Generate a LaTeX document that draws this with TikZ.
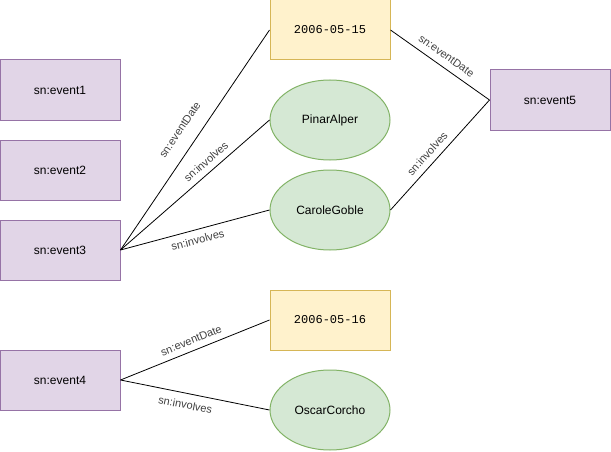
\documentclass[tikz,border=0pt]{standalone}
\usepackage{fontspec}
\setmainfont{Liberation Sans}
\setmonofont{Liberation Mono}
\usetikzlibrary{shapes.geometric}

\definecolor{eventfill}{HTML}{E1D5E7}
\definecolor{eventline}{HTML}{9673A6}
\definecolor{datefill}{HTML}{FFF2CC}
\definecolor{dateline}{HTML}{D6B656}
\definecolor{personfill}{HTML}{D5E8D4}
\definecolor{personline}{HTML}{82B366}

\tikzset{
  eventbox/.style={draw=eventline, fill=eventfill, line width=1pt, minimum width=120pt, minimum height=60pt, inner sep=0pt, font=\fontsize{12}{14}\selectfont},
  datebox/.style={draw=dateline, fill=datefill, line width=1pt, minimum width=120pt, minimum height=60pt, inner sep=0pt, font=\ttfamily\fontsize{12}{14}\selectfont},
  person/.style={ellipse, draw=personline, fill=personfill, line width=1pt, minimum width=120pt, minimum height=80pt, inner sep=0pt, font=\fontsize{12}{14}\selectfont},
  rel/.style={line width=0.8pt},
  lbl/.style={sloped, inner sep=1pt, text=black!75, font=\fontsize{11}{13}\selectfont}
}

\begin{document}
\begin{tikzpicture}[x=1pt, y=-1pt]

  \useasboundingbox (0,0) rectangle (611,452);

  \node[eventbox] (event1) at (60,90) {sn:event1}; %LEVO
  \node[eventbox] (event2) at (60,170) {sn:event2};
  \node[eventbox] (event3) at (60,250) {sn:event3};
  \node[eventbox] (event4) at (60,380) {sn:event4};

  \node[datebox] (date15) at (330,30) {2006-05-15}; %SREDINA
  \node[person] (pinar) at (330,120) {PinarAlper};
  \node[person] (carole) at (330,210) {CaroleGoble};
  \node[datebox] (date16) at (330,320) {2006-05-16};
  \node[person] (oscar) at (330,410) {OscarCorcho};

  \node[eventbox] (event5) at (550,100) {sn:event5}; %DESNO

  \draw[rel] (event3.east) -- node[lbl, midway, above=13pt] {sn:eventDate} (date15.west);
  \draw[rel] (event3.east) -- node[lbl, pos=0.62, above=5pt] {sn:involves} (pinar.west);
  \draw[rel] (event3.east) -- node[lbl, midway, below=5pt] {sn:involves} (carole.west);

  \draw[rel] (date15.east) -- node[lbl, midway, above=6pt] {sn:eventDate} (event5.west);
  \draw[rel] (carole.east) -- node[lbl, pos=0.45, above=5pt] {sn:involves} (event5.west);

  \draw[rel] (event4.east) -- node[lbl, midway, above=5pt] {sn:eventDate} (date16.west);
  \draw[rel] (event4.east) -- node[lbl, pos=0.45, below=6pt] {sn:involves} (oscar.west);

\end{tikzpicture}
\end{document}
